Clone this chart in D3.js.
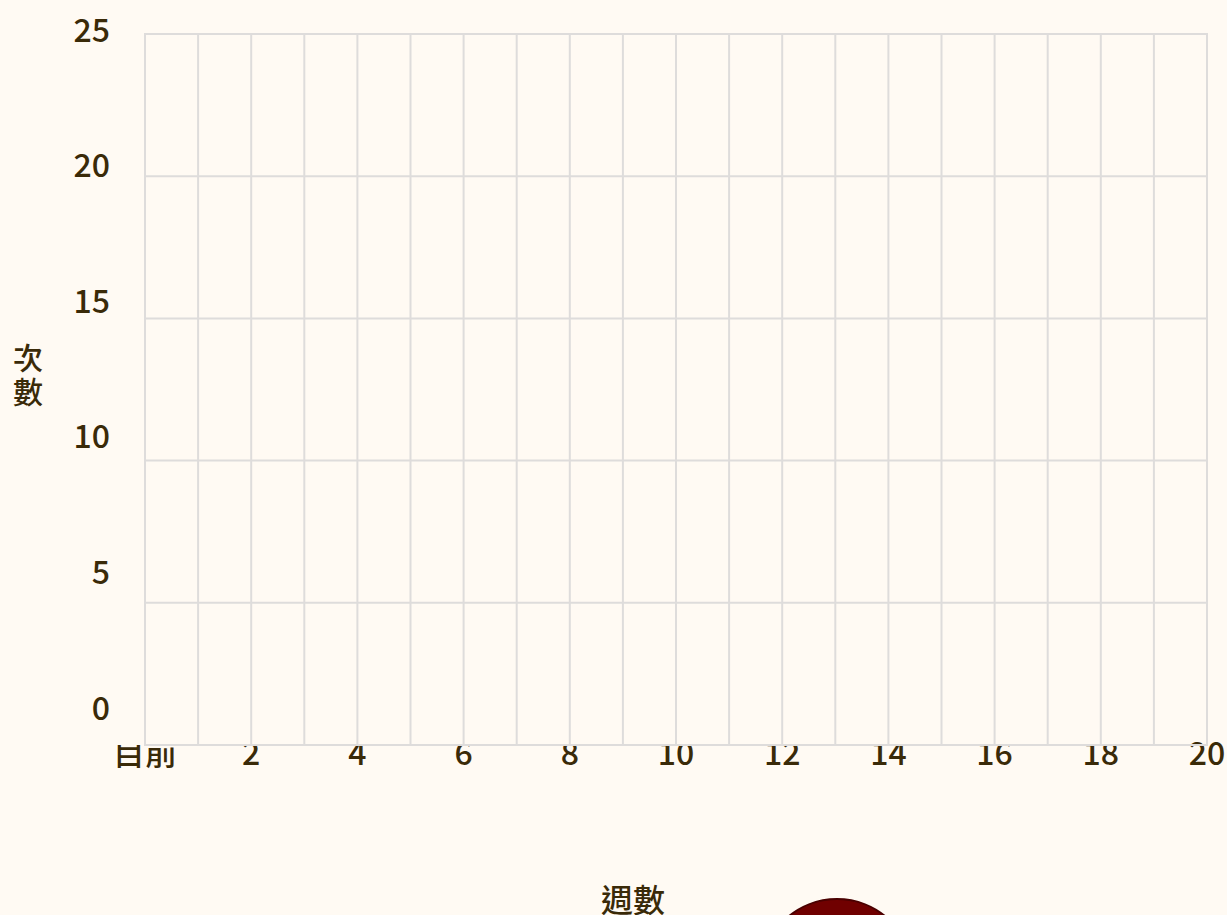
<!DOCTYPE html>
<html>
<head>
<meta charset="utf-8">
<script src="https://cdn.jsdelivr.net/npm/d3@7"></script>
<style>
  html, body { margin: 0; padding: 0; background: #fffaf3; overflow: hidden; }
  svg { display: block; }
  text { font-family: "Noto Sans CJK TC", "Noto Sans", sans-serif; font-weight: 500; fill: #3a2a08; }
</style>
</head>
<body>
<div id="chart"></div>
<script>
// weeks on x, count on y (no data points yet)
const weekTicks = [0, 2, 4, 6, 8, 10, 12, 14, 16, 18, 20];
const weekLabels = ['目前', '2', '4', '6', '8', '10', '12', '14', '16', '18', '20'];
const weekGrid = d3.range(0, 21);
const countTicks = [0, 5, 10, 15, 20, 25];
const xTitle = '週數';
const yTitle = ['次', '數'];

const width = 1227, height = 915;
const bg = '#fffaf3';
const plotLeft = 145, plotRight = 1207, plotTop = 34, plotBottom = 745;

const svg = d3.select('#chart')
  .append('svg')
  .attr('width', width)
  .attr('height', height);

const x = d3.scaleLinear().domain([0, 20]).range([plotLeft, plotRight]);
const y = d3.scaleLinear().domain([0, 25]).range([plotBottom, plotTop]);
// tick labels on the y side sit on a slightly compressed ramp
const yLab = d3.scaleLinear().domain([0, 25]).range([708, 30]);

// x tick labels (drawn first, the plot area then covers their tops)
svg.append('g')
  .selectAll('text')
  .data(weekTicks)
  .enter()
  .append('text')
  .attr('x', d => x(d))
  .attr('y', 765)
  .attr('text-anchor', 'middle')
  .style('font-size', '32px')
  .text((d, i) => weekLabels[i]);

svg.append('rect')
  .attr('x', 100)
  .attr('y', y(25))
  .attr('width', x(19.5) - 100)
  .attr('height', y(0) - y(25))
  .attr('fill', bg);

// grid
const grid = svg.append('g')
  .attr('stroke', '#dedcdb')
  .attr('stroke-width', 2);

grid.selectAll('line.v')
  .data(weekGrid)
  .enter()
  .append('line')
  .attr('class', 'v')
  .attr('x1', d => x(d)).attr('x2', d => x(d))
  .attr('y1', y(25)).attr('y2', y(0));

grid.selectAll('line.h')
  .data(countTicks)
  .enter()
  .append('line')
  .attr('class', 'h')
  .attr('x1', x(0) - 1).attr('x2', x(20) + 1)
  .attr('y1', d => y(d)).attr('y2', d => y(d));

// y tick labels
svg.append('g')
  .selectAll('text')
  .data(countTicks)
  .enter()
  .append('text')
  .attr('x', 110)
  .attr('y', d => yLab(d))
  .attr('dy', '0.36em')
  .attr('text-anchor', 'end')
  .style('font-size', '32px')
  .text(d => d);

// axis titles
const yt = svg.append('text')
  .attr('x', 28)
  .attr('y', 369)
  .attr('text-anchor', 'middle')
  .style('font-size', '30px');
yt.selectAll('tspan')
  .data(yTitle)
  .enter()
  .append('tspan')
  .attr('x', 28)
  .attr('dy', (d, i) => i === 0 ? 0 : 34)
  .text(d => d);

svg.append('text')
  .attr('x', 633)
  .attr('y', 912)
  .attr('text-anchor', 'middle')
  .style('font-size', '32px')
  .text(xTitle);

// round button peeking in at the bottom
svg.append('circle')
  .attr('cx', 837)
  .attr('cy', 975)
  .attr('r', 76)
  .attr('fill', '#700000')
  .attr('stroke', '#4a0000')
  .attr('stroke-width', 2);
</script>
</body>
</html>
